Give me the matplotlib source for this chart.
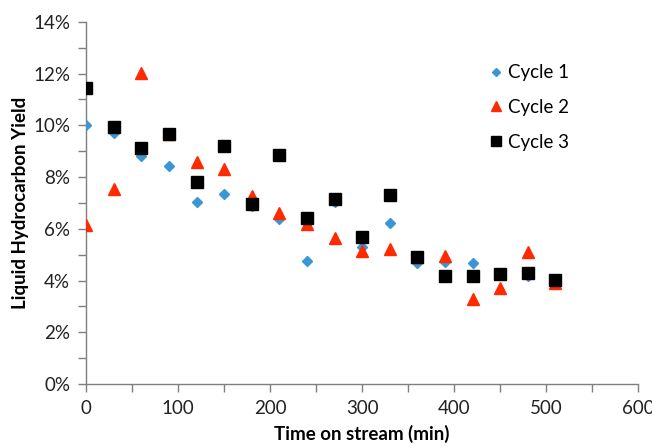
import numpy as np
import matplotlib.pyplot as plt
from matplotlib.ticker import MultipleLocator, FuncFormatter

# time on stream (min)
time_min = [0, 30, 60, 90, 120, 150, 180, 210, 240, 270, 300, 330, 360, 390, 420, 450, 480, 510]

# liquid hydrocarbon yield (%)
cycle1 = [10.0, 9.7, 8.82, 8.43, 7.04, 7.35, 6.9, 6.39, 4.76, 7.05, 5.31, 6.21, 4.67, 4.73, 4.69, 4.2, 4.18, 3.89]
cycle2 = [6.15, 7.53, 12.04, 9.65, 8.57, 8.30, 7.27, 6.62, 6.19, 5.63, 5.16, 5.22, 4.9, 4.96, 3.27, 3.70, 5.12, 3.92]
cycle3 = [11.43, 9.95, 9.14, 9.66, 7.82, 9.22, 6.96, 8.87, 6.43, 7.14, 5.67, 7.31, 4.90, 4.19, 4.16, 4.25, 4.30, 4.02]

plt.rcParams['font.family'] = ['Lato', 'DejaVu Sans']

fig = plt.figure(figsize=(6.52, 4.47), dpi=100)
ax = fig.add_axes([0.132, 0.141, 0.847, 0.81])

ax.plot(time_min, cycle1, 'D', color='#3a96d4', ms=5.2, label='Cycle 1', zorder=3)
ax.plot(time_min, cycle2, '^', color='#ff2a00', ms=8.3, label='Cycle 2', zorder=4)
ax.plot(time_min, cycle3, 's', color='black', ms=8, label='Cycle 3', zorder=5)

ax.set_xlim(0, 600)
ax.set_ylim(0, 14)
ax.xaxis.set_major_locator(MultipleLocator(100))
ax.xaxis.set_minor_locator(MultipleLocator(50))
ax.yaxis.set_major_locator(MultipleLocator(2))
ax.yaxis.set_minor_locator(MultipleLocator(1))
ax.yaxis.set_major_formatter(FuncFormatter(lambda v, p: '%d%%' % v))

for s in ['top', 'right']:
    ax.spines[s].set_visible(False)
for s in ['left', 'bottom']:
    ax.spines[s].set_color('#7f7f7f')
    ax.spines[s].set_linewidth(1)
ax.tick_params(which='both', direction='out', length=5.5, color='#7f7f7f', width=1)
ax.tick_params(which='major', labelsize=13.5, labelcolor='#222222', pad=6)

ax.set_xlabel('Time on stream (min)', fontsize=13.5, fontweight='bold', labelpad=6)
ax.set_ylabel('Liquid Hydrocarbon Yield', fontsize=13.5, fontweight='bold', labelpad=3)

ax.legend(loc='upper left', bbox_to_anchor=(0.695, 0.93), frameon=False, fontsize=13.5,
          labelspacing=0.95, handletextpad=0.15, handlelength=1.0, markerscale=0.85)

fig.savefig('out.png', dpi=100)
